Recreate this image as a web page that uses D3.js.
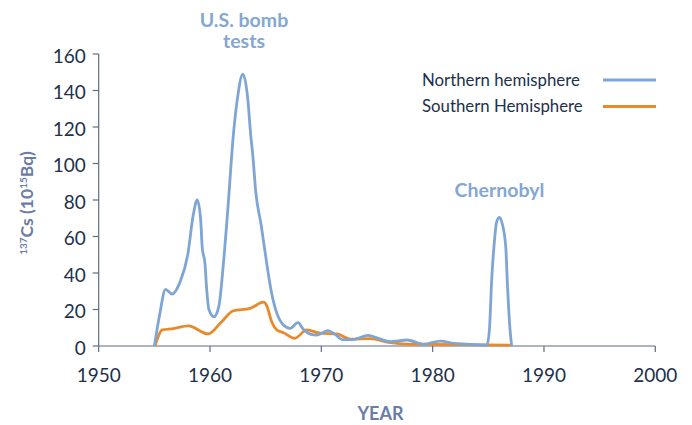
<!DOCTYPE html>
<html><head><meta charset="utf-8">
<script src="https://cdn.jsdelivr.net/npm/d3@7"></script>
<style>body{margin:0;background:#fff}svg{display:block}text{font-family:Lato,"Noto Sans",sans-serif}</style>
</head><body><svg id="c" width="692" height="425"></svg>
<script>
const northYears  = [1955,1955.5,1956,1956.6,1957.3,1958,1958.5,1958.85,1959.15,1959.3,1959.55,1959.7,1959.9,1960.35,1960.8,1961.2,1961.6,1962.1,1962.45,1962.95,1963.4,1963.65,1963.85,1964.1,1964.6,1965.1,1965.5,1966,1966.6,1967.2,1967.9,1968.4,1969,1969.6,1970.6,1971.2,1971.9,1972.8,1974.2,1975.2,1976.2,1977.7,1979.2,1980.7,1981.9,1983,1984.87,1985.1,1985.3,1985.5,1985.75,1986,1986.25,1986.57,1986.7,1986.95,1987.1];
const northValues = [0,18,31,28.5,35,50,72,80,70,54,45,31,20,16,22,45,75,116,135,149,135,116,104,85,66,45,30,18,11.5,9.7,12.8,9,6.5,6,8.4,6.5,3.5,3.5,5.8,4,2.4,3.3,1,2.7,1.4,1,0.5,9,36,54,68,70.5,67,54,36,9,0];
const southYears  = [1955.05,1955.4,1955.7,1956.7,1958.05,1959.85,1961,1962.1,1963.6,1964.8,1965.1,1965.5,1966,1966.6,1967.6,1968.7,1969.9,1971.4,1972.6,1974.4,1976.2,1977.7,1987.1];
const southValues = [0,6,8.8,9.5,11,6.6,13,19.3,20.6,24,22,14,8.8,7.3,4.2,8.8,7,6.6,3.7,4,1.8,1,0.5];
const xTicks = [1950,1960,1970,1980,1990,2000];
const yTicks = [0,20,40,60,80,100,120,140,160];
const seriesNames = ["Northern hemisphere","Southern Hemisphere"];
const seriesColors = ["#7ea5d3","#e98a2a"];
const annotations = [{lines:["U.S. bomb","tests"],x:1963.05},{lines:["Chernobyl"],x:1986}];

const svg = d3.select("#c");
const x = d3.scaleLinear().domain([1950,2000]).range([98.7,655.3]);
const y = d3.scaleLinear().domain([0,160]).range([346,54]);
const axisColor = "#5e6d82", tickText = "#22304a", labelColor = "#6b7ca6";

svg.append("line").attr("x1",x(1950)).attr("x2",x(1950)).attr("y1",y(160)).attr("y2",y(0)).attr("stroke",axisColor).attr("stroke-width",1.2);
svg.append("line").attr("x1",x(1950)).attr("x2",x(2000)).attr("y1",y(0)).attr("y2",y(0)).attr("stroke",axisColor).attr("stroke-width",1.2);
yTicks.forEach(t=>{
  svg.append("line").attr("x1",x(1950)-6).attr("x2",x(1950)).attr("y1",y(t)).attr("y2",y(t)).attr("stroke",axisColor).attr("stroke-width",1.2);
  svg.append("text").attr("x",x(1950)-13).attr("y",y(t)+8.5).attr("text-anchor","end").attr("font-size",19).attr("fill",tickText).text(t);
});
xTicks.forEach(t=>{
  svg.append("line").attr("x1",x(t)).attr("x2",x(t)).attr("y1",y(0)).attr("y2",y(0)+6).attr("stroke",axisColor).attr("stroke-width",1.2);
  svg.append("text").attr("x",x(t)).attr("y",382).attr("text-anchor","middle").attr("font-size",19).attr("fill",tickText).text(t);
});

const line = d3.line().x(d=>x(d[0])).y(d=>y(d[1])).curve(d3.curveMonotoneX);
const south = southYears.map((v,i)=>[v,southValues[i]]);
const north = northYears.map((v,i)=>[v,northValues[i]]);
svg.append("path").datum(south).attr("d",line).attr("fill","none").attr("stroke",seriesColors[1]).attr("stroke-width",2.8).attr("stroke-linejoin","round");
svg.append("path").datum(north).attr("d",line).attr("fill","none").attr("stroke",seriesColors[0]).attr("stroke-width",2.8).attr("stroke-linejoin","round");

seriesNames.forEach((n,i)=>{
  const yy = 80 + i*26.5;
  svg.append("text").attr("x",422).attr("y",yy+5.5).attr("font-size",16.8).attr("fill",tickText).text(n);
  svg.append("line").attr("x1",603).attr("x2",656).attr("y1",yy).attr("y2",yy).attr("stroke",seriesColors[i]).attr("stroke-width",2.8);
});

annotations.forEach(a=>{
  const t = svg.append("text").attr("text-anchor","middle").attr("font-weight","bold").attr("font-size",19.5).attr("fill","#84a7d3");
  a.lines.forEach((l,j)=>{
    t.append("tspan").attr("x",x(a.x)).attr("y",(a.lines.length>1?27:197)+j*21).text(l);
  });
});

svg.append("text").attr("x",380.5).attr("y",420).attr("text-anchor","middle").attr("font-weight","bold").attr("font-size",18).attr("fill",labelColor).text("YEAR");
const yl = svg.append("text").attr("transform","translate(33,203) rotate(-90)").attr("text-anchor","middle").attr("font-weight","bold").attr("font-size",17.5).attr("fill",labelColor);
yl.append("tspan").attr("font-size",10).attr("dy",-6).text("137");
yl.append("tspan").attr("dy",6).text("Cs (10");
yl.append("tspan").attr("font-size",10).attr("dy",-6).text("15");
yl.append("tspan").attr("dy",6).text("Bq)");
</script></body></html>
